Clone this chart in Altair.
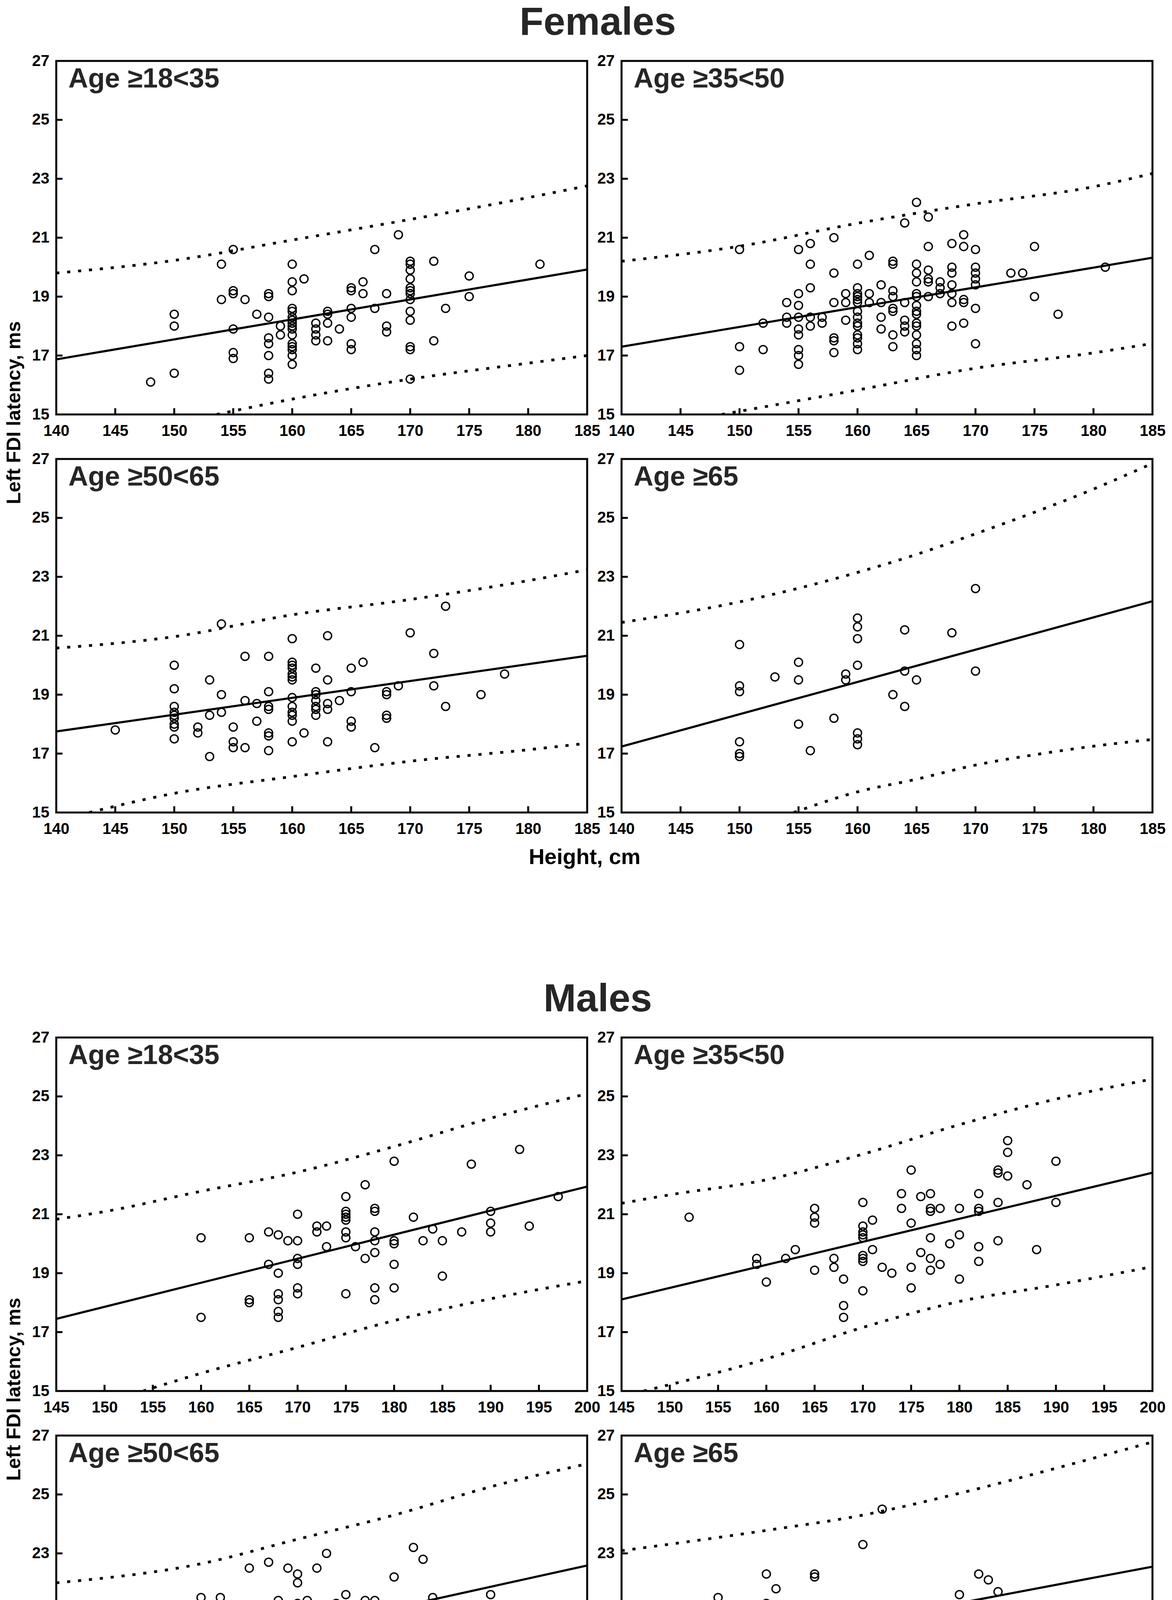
import altair as alt
import pandas as pd

FONT = "Liberation Sans, Arial, Helvetica, sans-serif"

# ---------------- data ----------------
# Females, x axis 140..185
F18_pts = [(148, [16.1]), (150, [18.4, 18.0, 16.4]), (154, [20.1, 18.9]),
           (155, [20.6, 19.2, 19.1, 17.9, 17.1, 16.9]), (156, [18.9]), (157, [18.4]),
           (158, [19.1, 19.0, 18.3, 17.6, 17.4, 17.0, 16.4, 16.2]), (159, [18.0, 17.7]),
           (160, [20.1, 19.5, 19.2, 18.6, 18.5, 18.3, 18.2, 18.1, 18.0, 17.9, 17.7, 17.4, 17.3, 17.2, 17.0, 16.7]),
           (161, [19.6]), (162, [18.1, 17.9, 17.7, 17.5]), (163, [18.5, 18.4, 18.1, 17.5]),
           (164, [17.9]), (165, [19.3, 19.2, 18.6, 18.3, 17.4, 17.2]), (166, [19.5, 19.1]),
           (167, [20.6, 18.6]), (168, [19.1, 18.0, 17.8]), (169, [21.1]),
           (170, [20.2, 20.1, 19.9, 19.6, 19.3, 19.2, 19.1, 18.9, 18.5, 18.2, 17.3, 17.2, 16.2]),
           (172, [20.2, 17.5]), (173, [18.6]), (175, [19.7, 19.0]), (181, [20.1])]
F18_reg = ([140, 185], [16.87, 19.92])
F18_up = ([140, 150, 160, 170, 180, 185], [19.8, 20.23, 20.92, 21.62, 22.36, 22.76])
F18_lo = ([153.6, 160, 170, 180, 185], [15.0, 15.52, 16.2, 16.74, 17.0])

F35_pts = [(150, [20.6, 17.3, 16.5]), (152, [18.1, 17.2]), (154, [18.8, 18.3, 18.1]),
           (155, [20.6, 19.1, 18.7, 18.3, 17.9, 17.7, 17.2, 17.0, 16.7]),
           (156, [20.8, 20.1, 19.3, 18.3, 18.0]), (157, [18.3, 18.1]),
           (158, [21.0, 19.8, 18.8, 17.6, 17.5, 17.1]), (159, [19.1, 18.8, 18.2]),
           (160, [20.1, 19.3, 19.1, 19.0, 18.9, 18.8, 18.5, 18.3, 18.1, 18.0, 17.7, 17.6, 17.4, 17.2]),
           (161, [20.4, 19.1, 18.8]), (162, [19.4, 18.8, 18.3, 17.9]),
           (163, [20.2, 20.1, 19.2, 19.0, 18.6, 18.5, 17.7, 17.3]),
           (164, [21.5, 18.8, 18.2, 18.0, 17.8]),
           (165, [22.2, 20.1, 19.8, 19.5, 19.1, 19.0, 18.7, 18.5, 18.4, 18.1, 18.0, 17.7, 17.4, 17.2, 17.0]),
           (166, [21.7, 20.7, 19.9, 19.6, 19.5, 19.0]), (167, [19.5, 19.3, 19.1]),
           (168, [20.8, 20.0, 19.8, 19.4, 19.1, 18.8, 18.0]), (169, [21.1, 20.7, 18.9, 18.8, 18.1]),
           (170, [20.6, 20.0, 19.8, 19.6, 19.4, 18.6, 17.4]), (173, [19.8]), (174, [19.8]),
           (175, [20.7, 19.0]), (177, [18.4]), (181, [20.0])]
F35_reg = ([140, 185], [17.3, 20.32])
F35_up = ([140, 150, 160, 170, 180, 185], [20.2, 20.71, 21.49, 22.15, 22.73, 23.18])
F35_lo = ([148.5, 160, 170, 180, 185], [15.0, 15.83, 16.57, 17.09, 17.41])

F50_pts = [(145, [17.8]), (150, [20.0, 19.2, 18.6, 18.4, 18.3, 18.2, 18.0, 17.9, 17.5]),
           (152, [17.9, 17.7]), (153, [19.5, 18.3, 16.9]), (154, [21.4, 19.0, 18.4]),
           (155, [17.9, 17.4, 17.2]), (156, [20.3, 18.8, 17.2]), (157, [18.7, 18.1]),
           (158, [20.3, 19.1, 18.6, 18.5, 17.7, 17.6, 17.1]),
           (160, [20.9, 20.1, 20.0, 19.9, 19.7, 19.6, 19.5, 18.9, 18.6, 18.4, 18.3, 18.1, 17.4]),
           (161, [17.7]), (162, [19.9, 19.1, 19.0, 18.8, 18.6, 18.5, 18.3]),
           (163, [21.0, 19.5, 18.7, 18.5, 17.4]), (164, [18.8]), (165, [19.9, 19.1, 18.1, 17.9]),
           (166, [20.1]), (167, [17.2]), (168, [19.1, 19.0, 18.3, 18.2]), (169, [19.3]),
           (170, [21.1]), (172, [20.4, 19.3]), (173, [22.0, 18.6]), (176, [19.0]), (178, [19.7])]
F50_reg = ([140, 185], [17.75, 20.32])
F50_up = ([140, 150, 160, 170, 180, 185], [20.58, 20.97, 21.71, 22.23, 22.87, 23.24])
F50_lo = ([142.8, 150, 160, 170, 180, 185], [15.0, 15.65, 16.22, 16.74, 17.13, 17.35])

F65_pts = [(150, [20.7, 19.3, 19.1, 17.4, 17.0, 16.9]), (153, [19.6]), (155, [20.1, 19.5, 18.0]),
           (156, [17.1]), (158, [18.2]), (159, [19.7, 19.5]),
           (160, [21.6, 21.3, 20.9, 20.0, 17.7, 17.5, 17.3]), (163, [19.0]),
           (164, [21.2, 19.8, 18.6]), (165, [19.5]), (168, [21.1]), (170, [22.6, 19.8])]
F65_reg = ([140, 185], [17.24, 22.17])
F65_up = ([140, 150, 160, 165, 170, 180, 185], [21.45, 22.15, 23.15, 23.76, 24.46, 25.98, 26.85])
F65_lo = ([154.6, 160, 165, 170, 175, 180, 185], [15.0, 15.7, 16.13, 16.61, 16.96, 17.25, 17.48])

# Males, x axis 145..200
M18_pts = [(160, [20.2, 17.5]), (165, [20.2, 18.1, 18.0]), (167, [20.4, 19.3]),
           (168, [20.3, 19.0, 18.3, 18.1, 17.7, 17.5]), (169, [20.1]),
           (170, [21.0, 20.1, 19.5, 19.3, 18.5, 18.3]), (172, [20.6, 20.4]), (173, [20.6, 19.9]),
           (175, [21.6, 21.1, 21.0, 20.9, 20.8, 20.4, 20.2, 18.3]), (176, [19.9]), (177, [22.0, 19.5]),
           (178, [21.2, 21.1, 20.4, 20.1, 19.7, 18.5, 18.1]), (180, [22.8, 20.1, 20.0, 19.3, 18.5]),
           (182, [20.9]), (183, [20.1]), (184, [20.5]), (185, [20.1, 18.9]), (187, [20.4]),
           (188, [22.7]), (190, [21.1, 20.7, 20.4]), (193, [23.2]), (194, [20.6]), (197, [21.6])]
M18_reg = ([145, 200], [17.45, 21.94])
M18_up = ([145, 150, 160, 170, 180, 190, 200], [20.83, 21.09, 21.78, 22.43, 23.3, 24.26, 25.09])
M18_lo = ([154.0, 160, 170, 180, 190, 200], [15.0, 15.6, 16.48, 17.39, 18.13, 18.74])

M35_pts = [(152, [20.9]), (159, [19.5, 19.3]), (160, [18.7]), (162, [19.5]), (163, [19.8]),
           (165, [21.2, 20.9, 20.7, 19.1]), (167, [19.5, 19.2]), (168, [18.8, 17.9, 17.5]),
           (170, [21.4, 20.6, 20.4, 20.3, 20.2, 19.6, 19.5, 19.4, 18.4]), (171, [20.8, 19.8]),
           (172, [19.2]), (173, [19.0]), (174, [21.7, 21.2]), (175, [22.5, 20.7, 19.2, 18.5]),
           (176, [21.6, 19.7]), (177, [21.7, 21.2, 21.1, 20.2, 19.5, 19.1]), (178, [21.2, 19.3]),
           (179, [20.0]), (180, [21.2, 20.3, 18.8]), (182, [21.7, 21.2, 21.1, 19.9, 19.4]),
           (184, [22.5, 22.4, 21.4, 20.1]), (185, [23.5, 23.1, 22.3]), (187, [22.0]),
           (188, [19.8]), (190, [22.8, 21.4])]
M35_reg = ([145, 200], [18.11, 22.41])
M35_up = ([145, 150, 160, 170, 180, 190, 200], [21.37, 21.66, 22.17, 23.04, 24.04, 24.91, 25.59])
M35_lo = ([147.3, 160, 170, 180, 190, 200], [15.0, 16.09, 17.16, 18.04, 18.6, 19.22])

M50_pts = [(159, [19.6]), (160, [21.5, 20.1, 19.4, 19.1, 18.7]), (161, [19.8]), (162, [21.5, 18.0]),
           (165, [22.5, 20.8, 20.6, 20.5, 19.1, 19.0, 18.7]), (166, [20.7]),
           (167, [22.7, 20.1, 19.8, 19.7, 19.3, 18.9, 18.8, 18.2]), (168, [21.4, 20.5, 20.3]),
           (169, [22.5]), (170, [22.3, 22.0, 21.3, 20.9, 20.8, 20.7, 20.6, 19.4]),
           (171, [21.4, 20.7, 19.3, 18.9, 18.3]), (172, [22.5, 20.4, 20.2, 19.5]), (173, [23.0]),
           (174, [21.3]), (175, [21.6, 20.5, 20.2]), (177, [21.4, 20.7]), (178, [21.4, 21.2]),
           (179, [20.5]), (180, [22.2, 21.2, 20.6, 20.5, 19.8, 19.5]), (182, [23.2]), (183, [22.8]),
           (184, [21.5]), (190, [21.6])]
M50_reg = ([145, 200], [18.61, 22.59])
M50_up = ([145, 160, 170, 180, 190, 200], [22.0, 22.65, 23.48, 24.3, 25.26, 26.04])
M50_lo = ([145, 160, 170, 180, 190, 200], [15.24, 16.61, 17.48, 18.04, 18.6, 19.13])

M65_pts = [(150, [18.0]), (154, [18.3]), (155, [21.5, 19.4]), (158, [19.3]),
           (160, [22.3, 21.3, 20.1, 18.3]), (161, [21.8, 20.7, 20.1, 19.4]), (162, [20.2]),
           (164, [19.1]), (165, [22.3, 22.2, 20.4, 20.1, 20.0]), (169, [19.3]),
           (170, [23.3, 20.4, 20.1, 19.9, 19.5, 19.2]), (172, [24.5, 20.1]), (174, [20.7]),
           (175, [20.6, 19.7]), (176, [20.4]), (178, [20.9, 19.3]), (180, [21.6]), (182, [22.3]),
           (183, [22.1]), (184, [21.7])]
M65_reg = ([145, 200], [19.15, 22.55])
M65_up = ([145, 160, 170, 180, 190, 200], [23.09, 23.78, 24.3, 25.04, 25.89, 26.78])
M65_lo = ([145, 160, 170, 180, 190, 200], [15.24, 16.43, 17.09, 17.6, 18.0, 18.3])

F_XDOM = [140, 185]
M_XDOM = [145, 200]
Y_TICKS = [15, 17, 19, 21, 23, 25, 27]

LABELS = ["Age \u226518<35", "Age \u226535<50", "Age \u226550<65", "Age \u226565"]
Y_TITLE = "Left FDI latency, ms"
X_TITLE = "Height, cm"

# ---------------- layout constants ----------------
W, H = 1359, 905
COL_GAP, ROW_GAP, SECTION_GAP = 88, 114, 283
TICK_LEN = 16


def make_panel(pts, reg, up, lo, label, xdom, ytitle=False, xtitle=False):
    xvals = list(range(xdom[0], xdom[1] + 1, 5))
    xaxis_kw = dict(values=xvals, labelFlush=False, labelOverlap=False, labelPadding=22)
    if xtitle:
        xaxis_kw.update(title=X_TITLE, titleX=1352, titleY=114, titleAlign="center",
                        titleBaseline="middle", titleFontSize=56, titleFont=FONT,
                        titleFontWeight="bold", titleColor="black")
    else:
        xaxis_kw.update(title=None)
    yaxis_kw = dict(values=Y_TICKS, labelFlush=False, labelOverlap=False, labelPadding=18)
    if ytitle:
        yaxis_kw.update(title=Y_TITLE, titleX=-108, titleY=900, titleAngle=270,
                        titleAlign="center", titleBaseline="middle", titleFontSize=50,
                        titleFont=FONT, titleFontWeight="bold", titleColor="black")
    else:
        yaxis_kw.update(title=None)

    x = alt.X("h:Q", scale=alt.Scale(domain=xdom, nice=False, zero=False), axis=alt.Axis(**xaxis_kw))
    y = alt.Y("v:Q", scale=alt.Scale(domain=[15, 27], nice=False, zero=False), axis=alt.Axis(**yaxis_kw))

    rows = [{"h": h, "v": v} for h, vs in pts for v in vs]
    points = alt.Chart(pd.DataFrame(rows)).mark_point(
        shape="circle", filled=False, color="black", strokeWidth=3.5, size=420, opacity=1
    ).encode(x=x, y=y)

    reg_line = alt.Chart(pd.DataFrame({"h": reg[0], "v": reg[1]})).mark_line(
        color="black", strokeWidth=5.5, clip=True).encode(x=x, y=y)
    up_line = alt.Chart(pd.DataFrame({"h": up[0], "v": up[1]})).mark_line(
        color="black", strokeWidth=7, strokeDash=[8, 20], clip=True, interpolate="monotone").encode(x=x, y=y)
    lo_line = alt.Chart(pd.DataFrame({"h": lo[0], "v": lo[1]})).mark_line(
        color="black", strokeWidth=7, strokeDash=[8, 20], clip=True, interpolate="monotone").encode(x=x, y=y)

    xticks = alt.Chart(pd.DataFrame({"h": xvals[1:-1]})).mark_rule(
        color="black", strokeWidth=5).encode(x=x, y=alt.value(H), y2=alt.value(H - TICK_LEN))
    yticks = alt.Chart(pd.DataFrame({"v": Y_TICKS[1:-1]})).mark_rule(
        color="black", strokeWidth=5).encode(y=y, x=alt.value(0), x2=alt.value(TICK_LEN))

    lab = alt.Chart(pd.DataFrame({"label": [label]})).mark_text(
        align="left", baseline="alphabetic", fontSize=70, fontWeight="bold", font=FONT,
        color="#262626").encode(x=alt.value(31), y=alt.value(68), text="label:N")

    return alt.layer(points, reg_line, up_line, lo_line, xticks, yticks, lab).properties(width=W, height=H)


def section(title, panels):
    return alt.concat(*panels, columns=2, spacing={"row": ROW_GAP, "column": COL_GAP},
                      bounds="flush",
                      title=alt.TitleParams(title, fontSize=100, font=FONT, fontWeight="bold",
                                            color="#262626", anchor="middle", baseline="alphabetic",
                                            offset=-55, dx=33))


fem = section("Females", [
    make_panel(F18_pts, F18_reg, F18_up, F18_lo, LABELS[0], F_XDOM, ytitle=True),
    make_panel(F35_pts, F35_reg, F35_up, F35_lo, LABELS[1], F_XDOM),
    make_panel(F50_pts, F50_reg, F50_up, F50_lo, LABELS[2], F_XDOM, xtitle=True),
    make_panel(F65_pts, F65_reg, F65_up, F65_lo, LABELS[3], F_XDOM),
])
mal = section("Males", [
    make_panel(M18_pts, M18_reg, M18_up, M18_lo, LABELS[0], M_XDOM, ytitle=True),
    make_panel(M35_pts, M35_reg, M35_up, M35_lo, LABELS[1], M_XDOM),
    make_panel(M50_pts, M50_reg, M50_up, M50_lo, LABELS[2], M_XDOM, xtitle=True),
    make_panel(M65_pts, M65_reg, M65_up, M65_lo, LABELS[3], M_XDOM),
])

chart = alt.vconcat(fem, mal, spacing=SECTION_GAP).properties(
    padding=0, background="white"
).configure_view(
    stroke="black", strokeWidth=5
).configure_axis(
    labelFont=FONT, labelFontSize=40, labelFontWeight="bold", labelColor="black",
    ticks=False, domain=False, grid=False
)

chart.save("out.html", embed_options={"renderer": "svg", "actions": False})
